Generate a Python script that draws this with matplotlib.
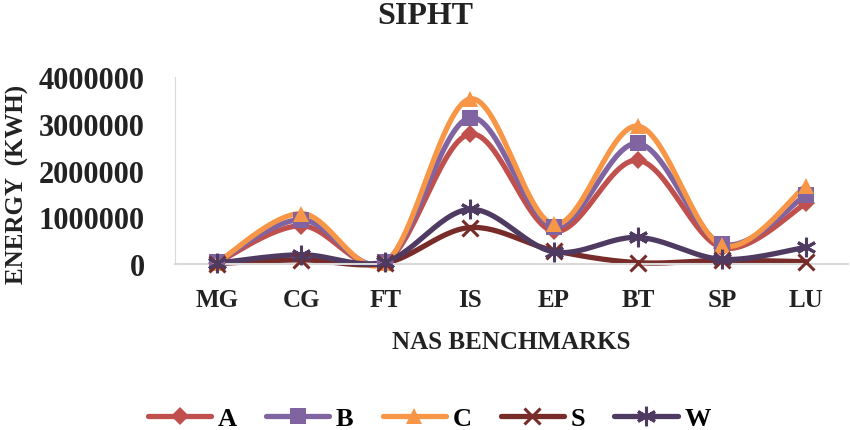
import numpy as np
import matplotlib
matplotlib.use('Agg')
from matplotlib import pyplot as plt

categories = ['MG', 'CG', 'FT', 'IS', 'EP', 'BT', 'SP', 'LU']
series_a = [30000, 820000, 40000, 2780000, 700000, 2220000, 350000, 1300000]
series_b = [40000, 950000, 50000, 3130000, 800000, 2580000, 430000, 1480000]
series_c = [30000, 1080000, 30000, 3530000, 850000, 2950000, 400000, 1680000]
series_s = [10000, 90000, 20000, 780000, 290000, 30000, 80000, 50000]
series_w = [20000, 200000, 50000, 1170000, 260000, 570000, 100000, 360000]

names = ['A', 'B', 'C', 'S', 'W']
colors = ['#C0504D', '#8064A2', '#F79646', '#772C2A', '#4F3B62']
markers = ['D', 's', '^', 'x', (6, 2, 0)]
msizes = [9, 11, 12, 11, 14]

font = 'Liberation Serif'


def smooth(y, n=30):
    # Catmull-Rom style bezier, like a smoothed office chart line
    y = np.asarray(y, dtype=float)
    x = np.arange(len(y), dtype=float)
    xs, ys = [], []
    for i in range(len(y) - 1):
        p0 = (x[max(i - 1, 0)], y[max(i - 1, 0)])
        p1 = (x[i], y[i])
        p2 = (x[i + 1], y[i + 1])
        p3 = (x[min(i + 2, len(y) - 1)], y[min(i + 2, len(y) - 1)])
        c1 = (p1[0] + (p2[0] - p0[0]) / 6, p1[1] + (p2[1] - p0[1]) / 6)
        c2 = (p2[0] - (p3[0] - p1[0]) / 6, p2[1] - (p3[1] - p1[1]) / 6)
        t = np.linspace(0, 1, n)
        bx = (1-t)**3*p1[0] + 3*(1-t)**2*t*c1[0] + 3*(1-t)*t**2*c2[0] + t**3*p2[0]
        by = (1-t)**3*p1[1] + 3*(1-t)**2*t*c1[1] + 3*(1-t)*t**2*c2[1] + t**3*p2[1]
        xs.extend(bx)
        ys.extend(by)
    return np.array(xs), np.array(ys)


fig = plt.figure(figsize=(8.5, 4.31), dpi=100)
ax = fig.add_axes([0.206, 0.385, 0.792, 0.434])

x = np.arange(len(categories))
handles = []
for vals, name, c, m, ms in zip([series_a, series_b, series_c, series_s, series_w],
                                names, colors, markers, msizes):
    sx, sy = smooth(vals)
    mew = 2.2 if m in ('x', (6, 2, 0)) else 0
    ax.plot(sx, sy, color=c, lw=3.8, solid_capstyle='round', clip_on=False, zorder=2)
    ax.plot(x, vals, linestyle='none', marker=m, color=c, ms=ms,
            markeredgewidth=mew, clip_on=False, zorder=3)
    h, = ax.plot([], [], color=c, lw=3.8, marker=m, ms=ms, markeredgewidth=mew,
                 solid_capstyle='round', label=name)
    handles.append(h)

ax.set_xlim(-0.5, 7.5)
ax.set_ylim(0, 4000000)
ax.set_yticks([0, 1000000, 2000000, 3000000, 4000000])
ax.set_yticklabels(['0', '1000000', '2000000', '3000000', '4000000'],
                   fontfamily=font, fontweight='bold', fontsize=22, color='#222222')
ax.set_xticks(x)
ax.set_xticklabels(categories, fontfamily=font, fontweight='bold', fontsize=18,
                   color='#222222')
ax.tick_params(axis='both', length=0)
ax.tick_params(axis='y', pad=22)
ax.tick_params(axis='x', pad=17)
for s in ['top', 'right']:
    ax.spines[s].set_visible(False)
ax.spines['left'].set_color('#D9D9D9')
ax.spines['bottom'].set_color('#D9D9D9')
ax.spines['bottom'].set_linewidth(1.5)

fig.text(0.5, 0.962, 'SIPHT', ha='center', va='center', fontfamily=font,
         fontweight='bold', fontsize=23, color='#222222')
fig.text(0.601, 0.205, 'NAS BENCHMARKS', ha='center', va='center', fontfamily=font,
         fontweight='bold', fontsize=18, color='#222222')
fig.text(0.02, 0.571, 'ENERGY  (KWH)', ha='center', va='center', rotation=90,
         fontfamily=font, fontweight='bold', fontsize=18, color='#222222')

fig.legend(handles=handles, loc='center', bbox_to_anchor=(0.505, 0.027), ncol=5,
           frameon=False, handlelength=2.4, columnspacing=1.1, handletextpad=0.25,
           prop={'family': font, 'weight': 'bold', 'size': 19})

plt.savefig('out.png', dpi=100)
